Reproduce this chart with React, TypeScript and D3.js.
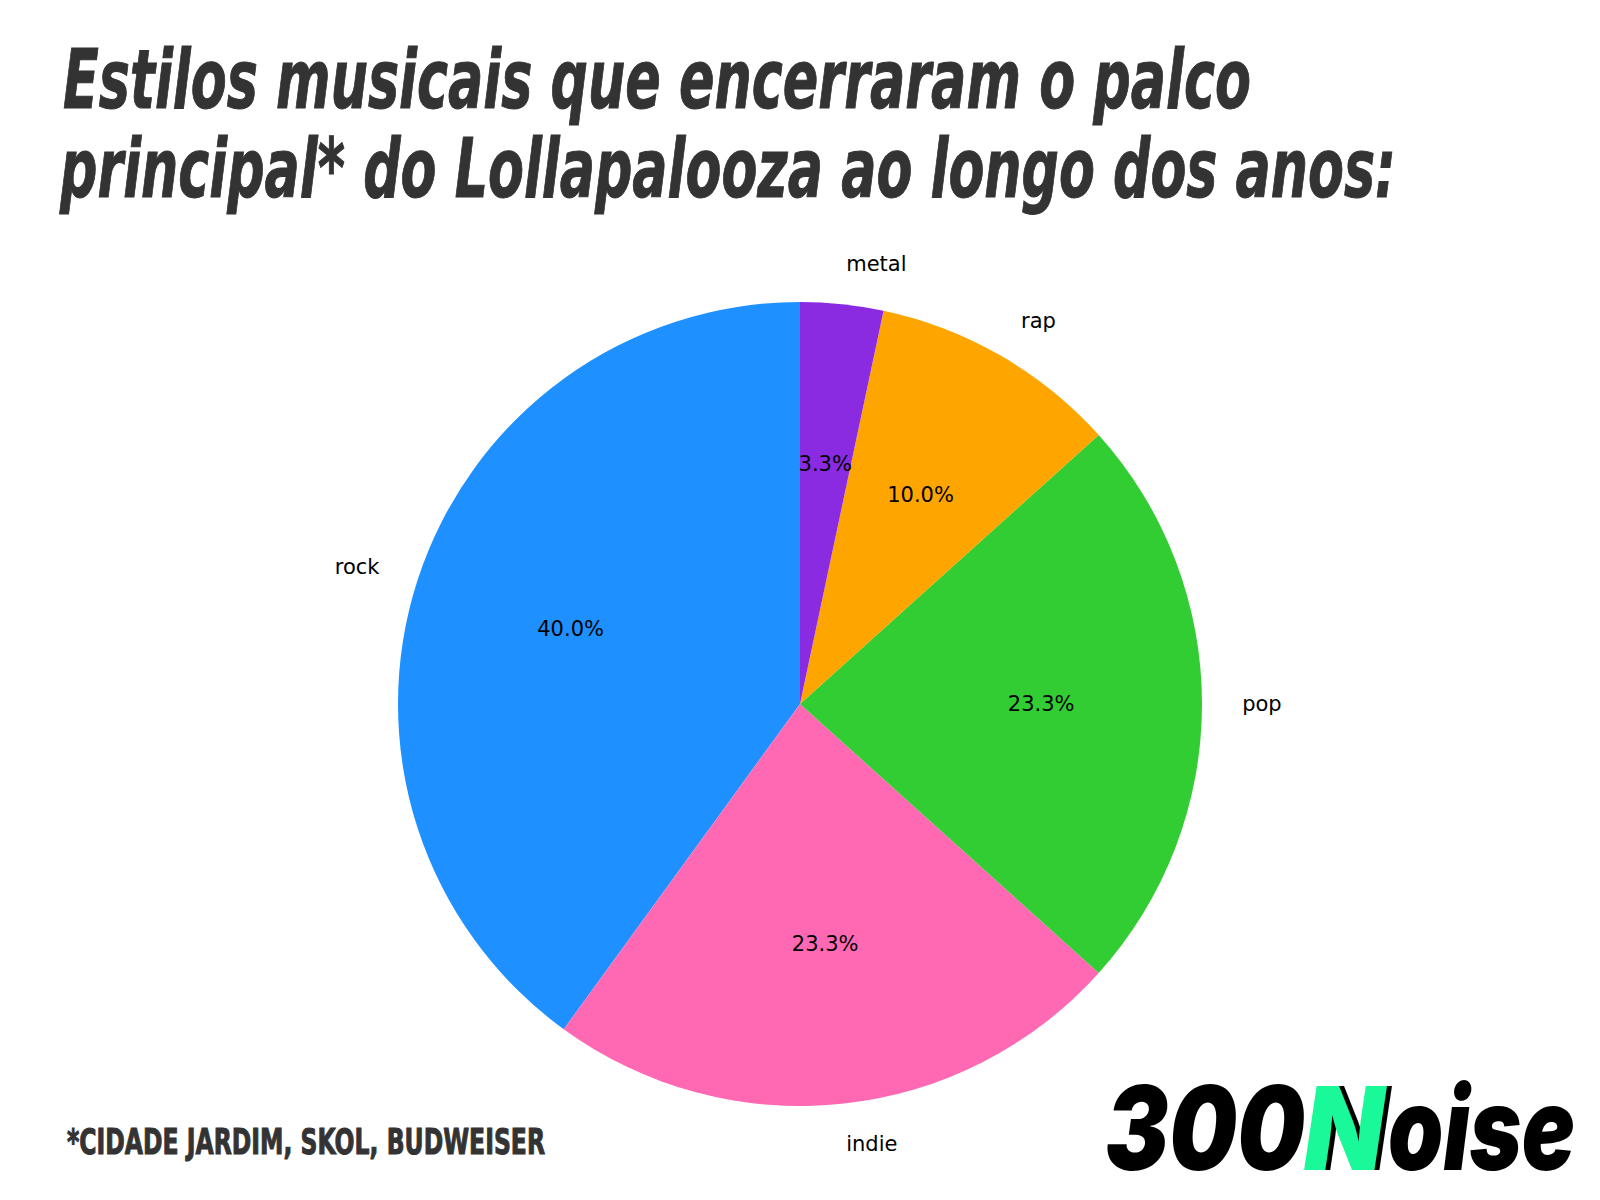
import React from 'react';
import * as d3 from 'd3';

// counts per style (30 shows in total)
const styles = ['rock', 'indie', 'pop', 'rap', 'metal'];
const counts = [12, 7, 7, 3, 1];
const colors = ['#1E90FF', '#FF69B4', '#32CD32', '#FFA500', '#8A2BE2'];

const titleLines = [
  'Estilos musicais que encerraram o palco',
  'principal* do Lollapalooza ao longo dos anos:',
];
const footnote = '*CIDADE JARDIM, SKOL, BUDWEISER';

const W = 1600;
const H = 1200;
const cx = 800;
const cy = 704;
const R = 402;

const condensed = "'Liberation Sans Narrow', 'DejaVu Sans Condensed', 'Roboto Condensed', sans-serif";

const App: React.FC = () => {
  const data = styles.map((s, i) => ({ label: s, value: counts[i], color: colors[i] }));
  const total = d3.sum(counts);
  // matplotlib style: start at 12 o'clock and go counter-clockwise
  const pie = d3
    .pie<any>()
    .value((d: any) => d.value)
    .sort(null)
    .startAngle(0)
    .endAngle(-2 * Math.PI);
  const arcs = pie(data);
  const arc = d3.arc<any>().innerRadius(0).outerRadius(R);
  const fmt = d3.format('.1f');

  return (
    <svg width={W} height={H} style={{ display: 'block', margin: -8, background: '#fff' }}>
      <rect width={W} height={H} fill="#fff" />

      <g fill="#333" stroke="#333" strokeWidth={1}>
        {titleLines.map((t, i) => (
          <text
            key={i}
            x={i === 0 ? 63 : 60}
            y={i === 0 ? 108 : 197}
            fontFamily={condensed}
            fontWeight="bold"
            fontStyle="italic"
            fontSize={82}
            textLength={i === 0 ? 1188 : 1336}
            lengthAdjust="spacingAndGlyphs"
          >
            {t}
          </text>
        ))}
      </g>

      <g transform={`translate(${cx},${cy})`}>
        {arcs.map((a: any, i: number) => (
          <path key={i} d={arc(a) as string} fill={a.data.color} />
        ))}
        {arcs.map((a: any, i: number) => {
          const mid = (a.startAngle + a.endAngle) / 2;
          const lx = Math.sin(mid) * R * 1.1;
          const ly = -Math.cos(mid) * R * 1.1;
          const px = Math.sin(mid) * R * 0.6;
          const py = -Math.cos(mid) * R * 0.6;
          return (
            <g key={'l' + i} fontFamily="'DejaVu Sans', sans-serif" fontSize={21} fill="#000">
              <text x={lx} y={ly} textAnchor={lx > 0 ? 'start' : 'end'} dominantBaseline="central">
                {a.data.label}
              </text>
              <text x={px} y={py} textAnchor="middle" dominantBaseline="central">
                {fmt((a.data.value / total) * 100)}%
              </text>
            </g>
          );
        })}
      </g>

      <text
        x={67}
        y={1154}
        fill="#333"
        stroke="#333"
        strokeWidth={1}
        fontFamily={condensed}
        fontWeight="bold"
        fontSize={36}
        textLength={478}
        lengthAdjust="spacingAndGlyphs"
      >
        {footnote}
      </text>

      <g fontFamily="Inter, Lato, sans-serif" fontWeight={900} fontStyle="italic" fontSize={116}>
        <text x={1105} y={1170} fill="#000" textLength={200} lengthAdjust="spacingAndGlyphs">
          300
        </text>
        <text x={1309} y={1170} fill="#000" textLength={80} lengthAdjust="spacingAndGlyphs">
          N
        </text>
        <text x={1304} y={1170} fill="#1AF99A" textLength={80} lengthAdjust="spacingAndGlyphs">
          N
        </text>
        <text x={1388} y={1170} fill="#000" textLength={187} lengthAdjust="spacingAndGlyphs">
          oise
        </text>
      </g>
    </svg>
  );
};

export default App;
